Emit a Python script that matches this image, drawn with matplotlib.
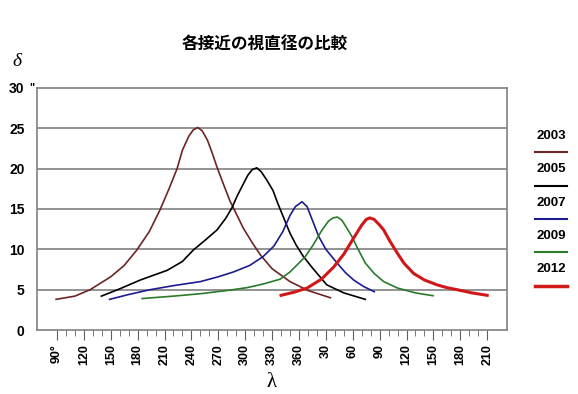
import numpy as np
import matplotlib
matplotlib.use("Agg")
import matplotlib.pyplot as plt
from matplotlib.lines import Line2D

#----Donnees (longitude deroulee : au-dela de 360 on repart de 0)

lam2003 = [89, 110, 127, 150, 165, 179, 193, 205, 215, 224, 230, 237, 242, 247, 252, 258, 263, 268.5, 276, 283, 287, 298, 308, 317, 330, 350, 370, 395]
d2003 = [3.8, 4.2, 5.0, 6.6, 8.0, 9.9, 12.2, 14.9, 17.5, 20.0, 22.3, 24.0, 24.8, 25.1, 24.7, 23.5, 22.0, 20.2, 18.0, 16.0, 15.1, 12.6, 10.8, 9.3, 7.6, 6.0, 4.9, 4.0]

lam2005 = [139.5, 160, 183, 213, 230, 242, 256, 268.5, 278, 285, 291, 296.5, 303, 308, 313, 318, 324, 331, 336, 342.6, 350, 357, 365, 375, 391, 410, 434]
d2005 = [4.2, 5.1, 6.2, 7.4, 8.5, 9.9, 11.2, 12.4, 13.8, 15.1, 16.6, 17.8, 19.2, 19.9, 20.1, 19.6, 18.6, 17.3, 15.8, 14.0, 12.0, 10.5, 9.1, 7.7, 5.6, 4.6, 3.8]

lam2007 = [148.7, 170, 194, 220, 250, 270, 287, 305, 320, 332, 342, 350, 356, 363.4, 369, 375, 382, 390, 402.5, 412, 421, 432, 444]
d2007 = [3.8, 4.4, 5.0, 5.5, 6.0, 6.6, 7.2, 8.0, 9.1, 10.4, 12.2, 14.2, 15.3, 15.9, 15.3, 13.6, 11.6, 10.0, 8.3, 7.1, 6.2, 5.4, 4.75]

lam2009 = [185, 220, 250, 280, 302, 320, 339, 350, 360, 367, 375, 385.8, 393, 398, 403, 408, 413, 419, 426, 434, 444, 454.5, 470, 490, 509.6]
d2009 = [3.9, 4.2, 4.5, 4.9, 5.25, 5.7, 6.3, 7.2, 8.3, 9.1, 10.4, 12.4, 13.5, 13.9, 14.0, 13.6, 12.7, 11.6, 10.0, 8.3, 7.0, 6.0, 5.2, 4.6, 4.25]

lam2012 = [340, 355, 369, 385, 398.7, 410, 421, 430, 435, 439, 444, 450, 454.5, 461, 467.6, 477, 488, 500, 514, 525, 536.4, 553, 570]
d2012 = [4.3, 4.7, 5.2, 6.3, 7.8, 9.4, 11.4, 13.0, 13.7, 13.9, 13.7, 13.0, 12.4, 11.1, 9.9, 8.3, 7.0, 6.2, 5.6, 5.25, 5.0, 4.6, 4.3]

annees = ["2003", "2005", "2007", "2009", "2012"]
couleurs = ["#6e2424", "#000000", "#1c1c8c", "#2a7a2a", "#d01818"]
epaisseurs = [1.2, 1.2, 1.2, 1.2, 2.2]

xticks = np.arange(90, 571, 30)
xlabels = ["90°"] + [str(v if v <= 360 else v - 360) for v in xticks[1:]]
yticks = [0, 5, 10, 15, 20, 25, 30]

#----Figure

fig = plt.figure(figsize=(5.78, 3.94), dpi=100)
ax = fig.add_axes([0.064, 0.1624, 0.813, 0.6143])

series = [(lam2003, d2003), (lam2005, d2005), (lam2007, d2007), (lam2009, d2009), (lam2012, d2012)]
for (x, y), c, lw in zip(series, couleurs, epaisseurs):
    ax.plot(x, y, color=c, lw=lw, solid_joinstyle="round")

ax.set_xlim(67.7, 592)
ax.set_ylim(0, 30)

for v in yticks[1:-1]:
    ax.axhline(v, color="#808080", lw=1.2, zorder=0)
for s in ax.spines.values():
    s.set_color("#808080")
    s.set_linewidth(1.2)

ax.set_yticks(yticks)
ax.set_yticklabels([str(v) for v in yticks], fontsize=10, fontweight="bold", family="Liberation Sans")
ax.tick_params(axis="y", length=0, pad=9)

ax.set_xticks(xticks)
ax.set_xticklabels(xlabels, rotation=90, va="top", ha="center", fontsize=9, fontweight="bold", family="Liberation Sans")
ax.set_xticks(np.arange(90, 571, 10), minor=True)
ax.tick_params(axis="x", which="major", length=7, color="#606060", pad=3)
ax.tick_params(axis="x", which="minor", length=4, color="#606060")

#----Textes

fig.text(0.458, 0.888, "各接近の視直径の比較", ha="center", va="center", fontsize=12,
         fontweight="bold", family=["Noto Sans CJK JP", "DejaVu Sans"])
fig.text(0.03, 0.843, "δ", ha="center", va="center", fontsize=14, style="italic", family="Liberation Serif")
fig.text(0.056, 0.78, '"', ha="center", va="center", fontsize=8, fontweight="bold", family="Liberation Sans")
fig.text(0.47, 0.03, "λ", ha="center", va="center", fontsize=15, family="Liberation Serif")

#----Legende

for i, (a, c, lw) in enumerate(zip(annees, couleurs, epaisseurs)):
    ytxt = 1 - (136 + 33.3 * i) / 394
    yl = 1 - (152.3 + 33.3 * i) / 394
    fig.text(551 / 578, ytxt, a, ha="center", va="center", fontsize=9.5, fontweight="bold", family="Liberation Sans")
    fig.add_artist(Line2D([535 / 578, 567 / 578], [yl, yl], color=c, lw=lw + 0.3))

fig.savefig("out.png", dpi=100)
